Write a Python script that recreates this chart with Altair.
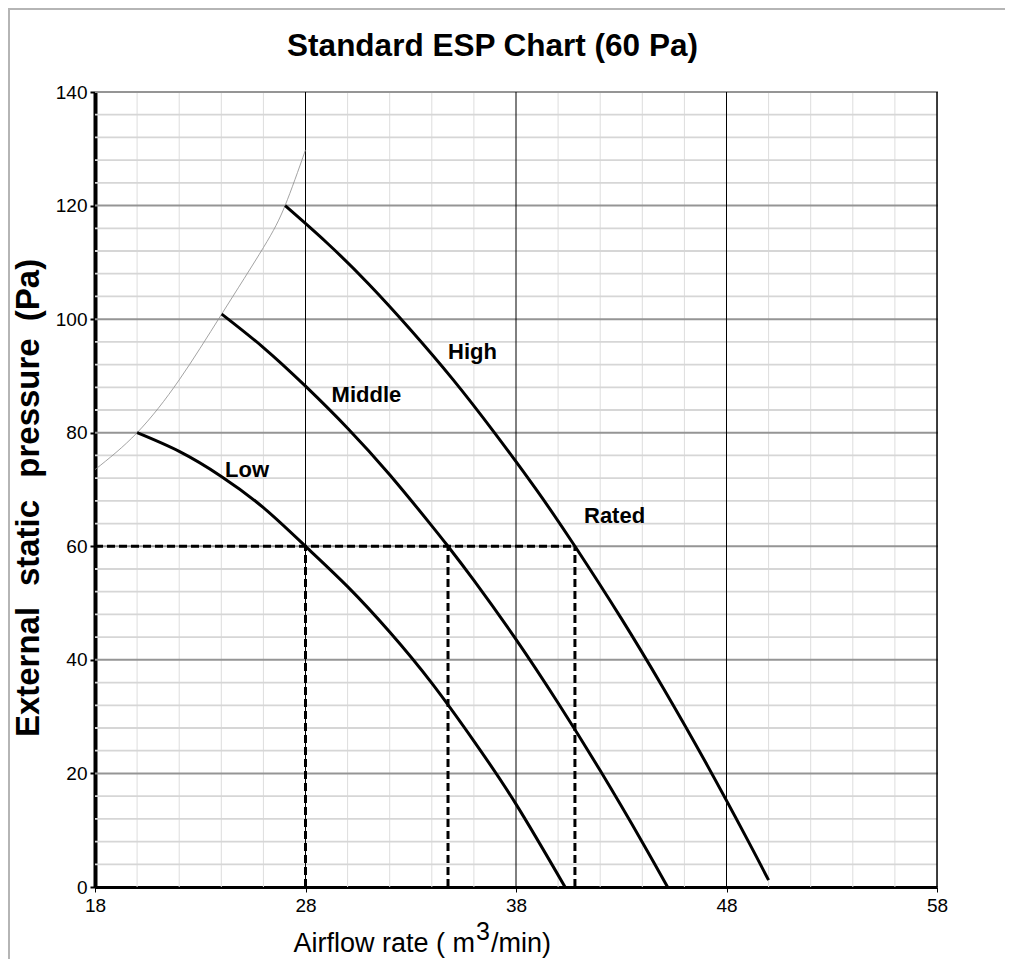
import altair as alt
import pandas as pd

# ---------------- data ----------------
low_x = [20.0, 22.0, 24.0, 26.0, 28.0, 30.0, 32.0, 34.0, 36.0, 38.0, 40.33]
low_y = [80.0, 76.7, 72.3, 66.8, 60.0, 52.9, 44.9, 35.9, 25.7, 14.6, 0.0]

mid_x = [24.02, 26.0, 28.0, 30.0, 32.0, 34.0, 34.77, 36.0, 38.0, 40.0, 42.0, 44.0, 45.2]
mid_y = [100.9, 95.0, 88.2, 80.8, 72.6, 63.6, 60.0, 54.0, 43.6, 32.4, 20.5, 7.9, 0.0]

high_x = [27.03, 29.0, 31.0, 33.0, 35.0, 37.0, 39.0, 40.8, 43.0, 45.0, 47.0, 49.0, 50.0]
high_y = [120.0, 113.5, 106.2, 98.1, 89.4, 79.9, 69.8, 60.0, 47.3, 35.0, 22.0, 8.3, 1.2]

limit_x = [18.0, 20.0, 22.0, 24.02, 26.0, 27.03, 28.0]
limit_y = [73.5, 80.0, 89.3, 100.9, 112.6, 120.0, 129.8]

rated_x = [28.0, 34.77, 40.8]
rated_y = 60.0

label_text = ["High", "Middle", "Low", "Rated"]
label_x = [34.77, 29.24, 24.18, 41.23]
label_y = [93.0, 85.45, 72.25, 64.1]

x_ticks = [18, 28, 38, 48, 58]
y_ticks = [0, 20, 40, 60, 80, 100, 120, 140]
x_minor = [v for v in range(20, 58, 2) if (v - 18) % 10 != 0]
x_major = [28, 38, 48]
y_minor = [v for v in range(4, 140, 4) if v % 20 != 0]

title_text = "Standard ESP Chart (60 Pa)"
ytitle_words = ["External", "static", "pressure", "(Pa)"]
ytitle_pos = [580, 451, 316, 198]          # word centres, px from plot top
xtitle_parts = ["Airflow rate ( m", "3", "/min)"]

FONT = "Liberation Sans"
W, H = 842, 795

# ---------------- tables ----------------
curves = pd.concat([
    pd.DataFrame({"x": low_x, "y": low_y, "s": "Low"}),
    pd.DataFrame({"x": mid_x, "y": mid_y, "s": "Middle"}),
    pd.DataFrame({"x": high_x, "y": high_y, "s": "High"}),
])
limit = pd.DataFrame({"x": limit_x, "y": limit_y})
rated = pd.DataFrame({"x": rated_x, "y0": 0.0, "y": rated_y})
hdash = pd.DataFrame({"x": [18.0], "x2": [max(rated_x)], "y": [rated_y]})
labels = pd.DataFrame({"t": label_text, "x": label_x, "y": label_y})
xminor = pd.DataFrame({"x": x_minor})
xmajor = pd.DataFrame({"x": x_major})
xright = pd.DataFrame({"x": [58]})
yminor = pd.DataFrame({"y": y_minor})
ymajor = pd.DataFrame({"y": [v for v in y_ticks if v > 0]})
ywords = pd.DataFrame({"t": ytitle_words, "p": ytitle_pos})
one = pd.DataFrame({"a": [0]})

xs = alt.Scale(domain=[18, 58], nice=False, zero=False)
ys = alt.Scale(domain=[0, 140], nice=False, zero=False)

xaxis = alt.Axis(values=x_ticks, grid=False, title=None, labelFont=FONT,
                 labelFontSize=19, labelColor="#000", labelPadding=4,
                 labelFlush=False, labelOverlap=False,
                 domainColor="#000", domainWidth=3, tickColor="#000",
                 tickSize=5, tickWidth=1)
yaxis = alt.Axis(values=y_ticks, grid=False, title=None, labelFont=FONT,
                 labelFontSize=19, labelColor="#000", labelPadding=3,
                 labelFlush=False, labelOverlap=False,
                 domainColor="#000", domainWidth=4, tickColor="#000",
                 tickSize=5, tickWidth=2)


def X(f="x"):
    return alt.X(f + ":Q", scale=xs, axis=xaxis)


def Y(f="y"):
    return alt.Y(f + ":Q", scale=ys, axis=yaxis)


g_xminor = alt.Chart(xminor).mark_rule(color="#dddddd", strokeWidth=1).encode(
    x=X(), y=alt.value(0), y2=alt.value(H))
g_yminor = alt.Chart(yminor).mark_rule(color="#d6d6d6", strokeWidth=1.8).encode(
    y=Y(), x=alt.value(0), x2=alt.value(W))
g_ymajor = alt.Chart(ymajor).mark_rule(color="#959595", strokeWidth=2).encode(
    y=Y(), x=alt.value(0), x2=alt.value(W + 1))
g_xmajor = alt.Chart(xmajor).mark_rule(color="#000", strokeWidth=1).encode(
    x=X(), y=alt.value(0), y2=alt.value(H))
g_xright = alt.Chart(xright).mark_rule(color="#000", strokeWidth=1.5).encode(
    x=X(), y=alt.value(0), y2=alt.value(H))

lim = alt.Chart(limit).mark_line(color="#8c8c8c", strokeWidth=0.8,
                                 interpolate="natural").encode(x=X(), y=Y())

lines = alt.Chart(curves).mark_line(color="#000", strokeWidth=3,
                                    interpolate="natural").encode(
    x=X(), y=Y(), detail="s:N")

vdash = alt.Chart(rated).mark_rule(color="#000", strokeWidth=3,
                                   strokeDash=[8, 4]).encode(
    x=X(), y=Y("y0"), y2="y:Q")
hd = alt.Chart(hdash).mark_rule(color="#000", strokeWidth=3,
                                strokeDash=[8, 4]).encode(
    x=X(), x2="x2:Q", y=Y())

lab = alt.Chart(labels).mark_text(font=FONT, fontSize=22, fontWeight="bold",
                                  align="left", baseline="alphabetic",
                                  color="#000").encode(
    x=X(), y=Y(), text="t:N")

title = alt.Chart(one).mark_text(font=FONT, fontSize=31.5, fontWeight="bold",
                                 align="center", baseline="alphabetic",
                                 color="#000").encode(
    x=alt.value(397.5), y=alt.value(-36), text=alt.value(title_text))

ytitle = alt.Chart(ywords).mark_text(font=FONT, fontSize=33, fontWeight="bold",
                                     align="center", baseline="alphabetic",
                                     angle=270, color="#000").encode(
    x=alt.value(-56), y=alt.Y("p:Q", scale=None), text="t:N")

xt1 = alt.Chart(one).mark_text(font=FONT, fontSize=27, align="right",
                               baseline="alphabetic", color="#000").encode(
    x=alt.value(380), y=alt.value(860), text=alt.value(xtitle_parts[0]))
xt2 = alt.Chart(one).mark_text(font=FONT, fontSize=25, align="left",
                               baseline="alphabetic", color="#000").encode(
    x=alt.value(381), y=alt.value(848), text=alt.value(xtitle_parts[1]))
xt3 = alt.Chart(one).mark_text(font=FONT, fontSize=27, align="left",
                               baseline="alphabetic", color="#000").encode(
    x=alt.value(396), y=alt.value(860), text=alt.value(xtitle_parts[2]))

frame = alt.Chart(one).mark_rect(filled=False, stroke="#b5b5b5",
                                 strokeWidth=2).encode(
    x=alt.value(-86), x2=alt.value(2000), y=alt.value(-83), y2=alt.value(2000))

chart = alt.layer(
    frame, g_xminor, g_yminor, g_ymajor, g_xmajor, g_xright,
    lim, lines, vdash, hd, lab,
    title, ytitle, xt1, xt2, xt3,
).properties(
    width=W, height=H,
    autosize=alt.AutoSizeParams(type="none"),
    padding={"left": 87, "top": 84, "right": 68, "bottom": 72},
).configure_view(stroke=None).configure(background="white")

chart.save("out.html", embed_options={"renderer": "svg", "actions": False})
